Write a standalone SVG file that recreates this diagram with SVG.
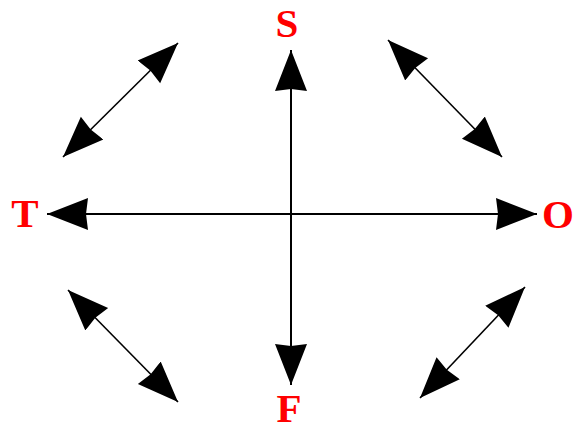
<svg xmlns="http://www.w3.org/2000/svg" width="573" height="432" viewBox="0 0 573 432">
<style>
.lbl{font-family:"Liberation Serif","Times New Roman",serif;font-weight:bold;font-size:41px;fill:#ff0000;text-anchor:middle}
.ax{stroke:#000;stroke-width:2;fill:none}
.dg{stroke:#000;stroke-width:1.6;fill:none}
</style>
<defs>
<marker id="ah" markerUnits="userSpaceOnUse" viewBox="0 -17 41 34" refX="41" refY="0" markerWidth="41" markerHeight="34" orient="auto-start-reverse">
<path d="M0,-16 L41,0 L0,16 L2,0 z" fill="#000"/>
</marker>
</defs>
<rect width="573" height="432" fill="#fff"/>
<g id="connectors">
<line class="ax" x1="47" y1="214" x2="537" y2="214" marker-start="url(#ah)" marker-end="url(#ah)"/>
<line class="ax" x1="291" y1="50" x2="291" y2="385" marker-start="url(#ah)" marker-end="url(#ah)"/>
<line class="dg" x1="178" y1="43" x2="63" y2="157" marker-start="url(#ah)" marker-end="url(#ah)"/>
<line class="dg" x1="388" y1="40" x2="502" y2="157" marker-start="url(#ah)" marker-end="url(#ah)"/>
<line class="dg" x1="68" y1="290" x2="178" y2="402" marker-start="url(#ah)" marker-end="url(#ah)"/>
<line class="dg" x1="525" y1="287" x2="420" y2="398" marker-start="url(#ah)" marker-end="url(#ah)"/>
</g>
<g id="S"><text class="lbl" x="287" y="37">S</text></g>
<g id="T"><text class="lbl" x="25" y="227">T</text></g>
<g id="O"><text class="lbl" x="558" y="228">O</text></g>
<g id="F"><text class="lbl" x="289" y="422">F</text></g>
</svg>
